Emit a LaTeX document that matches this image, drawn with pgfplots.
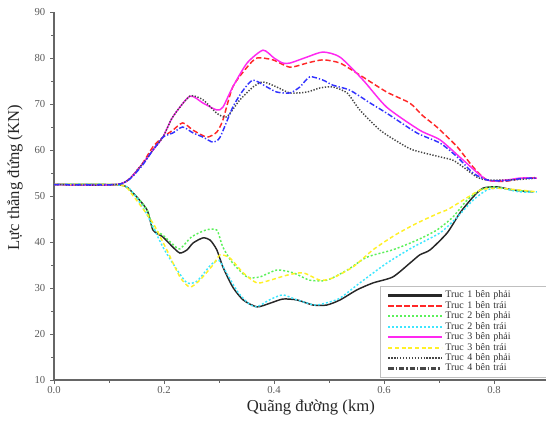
\documentclass[border=0pt]{standalone}
\usepackage{fontspec}
\setmainfont{Liberation Serif}
\usepackage{pgfplots}
\pgfplotsset{compat=1.18}
\definecolor{cRed}{RGB}{255,40,40}
\definecolor{cGreen}{RGB}{90,240,90}
\definecolor{cCyan}{RGB}{60,230,255}
\definecolor{cMag}{RGB}{255,40,240}
\definecolor{cYel}{RGB}{255,240,40}
\definecolor{cGray}{RGB}{70,70,70}
\definecolor{cBlue}{RGB}{50,50,255}
\definecolor{cBlack}{RGB}{40,40,40}
\begin{document}
\begin{tikzpicture}
\begin{axis}[
  scale only axis,
  width=371.25pt, height=276pt,
  xmin=0, xmax=0.9, ymin=10, ymax=90,
  axis x line*=bottom, axis y line*=left,
  axis line style={draw=gray!80!black, line width=0.9pt},
  separate axis lines,
  every outer x axis line/.append style={-},
  every outer y axis line/.append style={-},
  xtick={0,0.2,0.4,0.6,0.8}, ytick={10,20,...,90},
  minor x tick num=1, minor y tick num=1,
  tick align=outside, major tick length=3pt, minor tick length=2pt,
  tick style={draw=gray!80!black, line width=0.7pt},
  xticklabel style={/pgf/number format/fixed, /pgf/number format/precision=1, /pgf/number format/fixed zerofill, yshift=1.5pt},
  /pgf/number format/assume math mode=true,
  tick label style={font=\fontsize{8}{9}\selectfont, text=gray!70!black},
  xlabel={Quãng đường (km)}, ylabel={Lực thẳng đứng (KN)},
  label style={font=\fontsize{12.5}{14}\selectfont, text=black!85},
  xlabel style={at={(axis description cs:0.519,-0.074)}, anchor=center},
  ylabel style={at={(axis description cs:-0.079,0.55)}, anchor=center, rotate=0},
  legend cell align=left,
  legend style={at={(0.659,0.005)}, anchor=south west, draw=gray!50, line width=0.6pt,
    font=\fontsize{7.5}{7.5}\selectfont, row sep=-2.1pt, inner xsep=5pt, inner ysep=2pt,
    text=black!80, nodes={inner ysep=1.6pt, text width=72pt}},
  legend image code/.code={\draw[#1, line width=1.6pt] (0pt,0pt) -- (40pt,0pt);},
  every axis plot/.append style={line width=1.1pt, smooth, tension=0.4},
]
% Truc 1 ben phai (black solid, lower)
\addplot[cBlack, solid] coordinates {(0,52.5)(0.12,52.4)(0.144,50.6)(0.169,47)(0.18,42.6)(0.198,41.1)(0.216,38.9)(0.229,37.6)(0.242,38.3)(0.253,39.8)(0.271,40.9)(0.284,40.4)(0.296,38.3)(0.307,34.6)(0.325,30.2)(0.344,27.4)(0.369,25.9)(0.393,26.7)(0.416,27.6)(0.442,27.4)(0.471,26.3)(0.496,26.3)(0.52,27.4)(0.551,29.6)(0.58,31.1)(0.616,32.4)(0.647,35.4)(0.665,37.2)(0.684,38.3)(0.715,42)(0.738,46.3)(0.762,49.8)(0.78,51.7)(0.805,52)(0.835,51.3)(0.871,50.9)};
\addlegendentry{Truc 1 bên phải}
% Truc 1 ben trai (red dashed, upper)
\addplot[cRed, dash pattern=on 4pt off 2pt] coordinates {(0,52.5)(0.12,52.6)(0.156,56.3)(0.18,60.7)(0.198,62.8)(0.216,64.3)(0.234,65.9)(0.253,64.3)(0.278,62.8)(0.296,63.9)(0.307,66.5)(0.325,73.7)(0.351,78)(0.369,80)(0.398,79.6)(0.429,78)(0.46,78.9)(0.489,79.6)(0.52,78.9)(0.556,76.3)(0.605,72.6)(0.647,70.2)(0.67,67.5)(0.696,65)(0.733,60.7)(0.762,56.3)(0.787,53.5)(0.82,53.2)(0.85,53.8)(0.878,54)};
\addlegendentry{Truc 1 bên trái}
% Truc 2 ben phai (green dotted, lower)
\addplot[cGreen, dash pattern=on 1.5pt off 1.5pt] coordinates {(0,52.5)(0.12,52.4)(0.144,50.6)(0.169,47)(0.18,43)(0.198,41.5)(0.216,39.5)(0.229,38.5)(0.25,41.1)(0.276,42.6)(0.296,42.6)(0.307,38.9)(0.325,35.4)(0.351,32.4)(0.374,32.4)(0.405,33.9)(0.435,33.3)(0.465,31.7)(0.496,31.7)(0.533,33.9)(0.569,36.7)(0.616,38.3)(0.66,40.4)(0.696,42.6)(0.725,45.4)(0.751,49.1)(0.775,51.3)(0.798,52)(0.835,51.3)(0.871,50.9)};
\addlegendentry{Truc 2 bên phải}
% Truc 2 ben trai (cyan dotted, lower)
\addplot[cCyan, dash pattern=on 1.5pt off 1.5pt] coordinates {(0,52.5)(0.12,52.4)(0.144,50.6)(0.169,46)(0.198,38.9)(0.224,33.9)(0.242,31.1)(0.26,31.5)(0.285,35)(0.3,36)(0.315,33)(0.335,29)(0.355,26.5)(0.369,25.9)(0.393,27.5)(0.416,28.5)(0.44,27.5)(0.474,26.3)(0.496,26.8)(0.52,27.8)(0.556,31.1)(0.605,35.4)(0.653,38.9)(0.702,42)(0.733,45.4)(0.762,49.1)(0.787,51.3)(0.811,51.7)(0.847,50.9)(0.878,50.9)};
\addlegendentry{Truc 2 bên trái}
% Truc 3 ben phai (magenta solid, upper)
\addplot[cMag, solid] coordinates {(0,52.5)(0.12,52.6)(0.156,56.3)(0.18,60)(0.198,62.8)(0.216,67.2)(0.247,71.7)(0.271,70.2)(0.296,68.7)(0.307,69.3)(0.325,73.7)(0.351,78.9)(0.38,81.7)(0.4,80)(0.416,78.9)(0.429,78.9)(0.46,80.2)(0.489,81.3)(0.52,80.2)(0.562,75.2)(0.605,69.3)(0.665,64.3)(0.702,62.2)(0.744,57.8)(0.787,53.5)(0.824,53.5)(0.847,53.9)(0.878,53.9)};
\addlegendentry{Truc 3 bên phải}
% Truc 3 ben trai (yellow dashed, lower)
\addplot[cYel, dash pattern=on 3pt off 2pt] coordinates {(0,52.5)(0.12,52.4)(0.144,50)(0.18,44.1)(0.205,38.3)(0.229,32.4)(0.247,30.2)(0.265,31.7)(0.289,35)(0.302,37.2)(0.32,36.5)(0.344,33.3)(0.369,31.1)(0.393,31.7)(0.424,32.8)(0.453,33.3)(0.484,31.7)(0.507,32.2)(0.544,34.6)(0.58,38.3)(0.62,41.5)(0.66,44.1)(0.7,46.3)(0.715,47)(0.744,49.1)(0.775,51.3)(0.805,51.7)(0.847,51.3)(0.878,50.9)};
\addlegendentry{Truc 3 bên trái}
% Truc 4 ben phai (gray dotted, upper)
\addplot[cGray, dash pattern=on 1pt off 1.2pt] coordinates {(0,52.5)(0.12,52.6)(0.156,56.3)(0.18,60)(0.198,62.8)(0.216,67.2)(0.247,71.7)(0.271,70.9)(0.296,68)(0.314,67.2)(0.338,70.9)(0.362,73.7)(0.38,74.8)(0.405,73.7)(0.429,72.4)(0.46,72.6)(0.484,73.5)(0.507,73.7)(0.533,72.4)(0.556,68.7)(0.593,64.3)(0.629,61.5)(0.653,60)(0.702,58.5)(0.725,57.8)(0.744,56.3)(0.769,54.1)(0.787,53.5)(0.835,53.5)(0.878,53.9)};
\addlegendentry{Truc 4 bên phải}
% Truc 4 ben trai (blue dash-dot, upper)
\addplot[cBlue, dash pattern=on 4pt off 1.5pt on 1pt off 1.5pt, forget plot] coordinates {(0,52.5)(0.12,52.6)(0.156,56)(0.18,60)(0.198,62.8)(0.216,63.7)(0.234,65)(0.253,63.7)(0.271,62.8)(0.289,61.7)(0.302,62.8)(0.325,69.3)(0.344,73)(0.362,75.2)(0.387,73.7)(0.405,72.6)(0.429,72.4)(0.447,73.7)(0.465,75.9)(0.489,75.2)(0.507,74.1)(0.538,73)(0.575,70.2)(0.605,68)(0.66,63.7)(0.702,61.5)(0.733,58.5)(0.762,55)(0.787,53.5)(0.82,53.3)(0.85,53.8)(0.878,53.9)};
\addlegendimage{cGray, dash pattern=on 4pt off 1.5pt on 1pt off 1.5pt}
\addlegendentry{Truc 4 bên trái}
\coordinate (ll) at (rel axis cs:0,0);
\end{axis}
\pgfresetboundingbox
\path[use as bounding box] (ll) ++(-40.5pt,-30.75pt) rectangle ++(409.5pt,315.75pt);
\end{tikzpicture}
\end{document}
